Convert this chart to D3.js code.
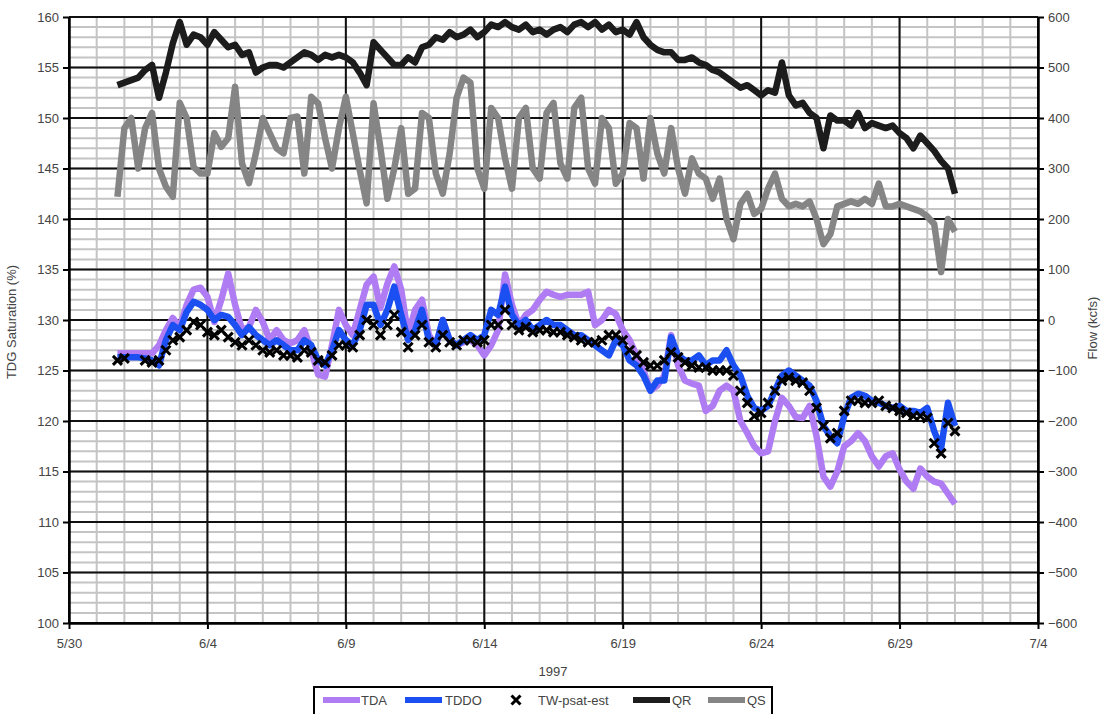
<!DOCTYPE html>
<html>
<head>
<meta charset="utf-8">
<script src="https://cdn.jsdelivr.net/npm/d3@7"></script>
<style>
  body { margin: 0; background: #fff; }
  svg text { font-family: "Liberation Sans", Arial, sans-serif; fill: #444; font-size: 13px; }
</style>
</head>
<body>
<svg id="chart" width="1104" height="714"></svg>
<script>
// Readings every 6 hours, starting 5/31/1997 18:00
const firstReading = Date.UTC(1997, 4, 31, 18);
const stepHours = 6;

// Total dissolved gas, % saturation (left axis)
const tda = [126.7,126.7,126.7,126.7,126.7,126.7,127.5,129.0,130.2,129.3,
  131.5,133.0,133.2,132.3,129.8,132.0,134.6,131.5,129.0,129.3,
  131.0,129.8,128.0,129.0,128.0,127.7,128.0,129.0,127.0,124.6,
  124.4,127.5,131.0,129.5,128.5,131.0,133.5,134.3,131.2,133.6,
  135.3,133.0,128.5,131.0,132.0,128.5,127.5,130.0,128.0,127.5,
  127.8,128.0,127.5,126.5,127.5,129.0,134.5,131.5,129.5,130.5,
  131.0,132.0,132.8,132.5,132.3,132.5,132.5,132.5,132.8,129.5,
  130.0,131.0,130.6,129.0,128.0,126.5,125.0,123.0,123.5,124.5,
  128.5,125.5,124.0,123.7,123.5,121.0,121.5,123.0,123.5,123.0,
  120.0,118.8,117.5,116.8,117.0,120.0,122.3,121.5,120.4,120.3,
  121.5,118.5,114.5,113.5,115.0,117.5,118.0,118.8,118.0,116.5,
  115.5,116.5,116.8,115.2,114.0,113.3,115.3,114.5,114.0,113.8,
  112.8,111.8];

const tddo = [126.3,126.3,126.3,126.3,126.2,126.0,125.5,128.0,129.5,129.0,
  130.8,131.8,131.5,131.0,130.0,130.5,130.3,129.5,128.5,129.3,
  128.5,128.0,127.5,128.0,127.5,127.0,127.0,128.0,127.5,126.0,
  125.5,127.0,129.0,128.0,127.5,129.0,131.5,131.5,129.5,131.0,
  133.3,130.5,128.0,129.0,131.0,128.0,127.5,130.0,128.0,127.5,
  128.0,128.5,128.0,128.5,131.0,130.5,133.3,130.5,129.5,130.0,
  129.0,129.5,130.0,129.5,129.5,129.0,128.5,128.5,128.0,127.5,
  127.0,126.5,128.0,127.5,126.0,125.5,124.5,123.0,124.0,124.0,
  128.3,126.5,126.0,126.0,126.5,125.5,126.0,126.0,127.0,125.5,
  124.5,122.5,121.3,121.0,121.5,123.0,124.5,125.0,124.5,124.0,
  123.5,122.0,119.5,118.5,117.8,120.5,122.3,122.7,122.5,122.0,
  121.8,121.5,121.3,121.5,121.0,121.0,120.8,121.3,119.0,117.3,
  121.8,119.5];

const twPsatEst = [126.0,126.2,null,null,126.0,125.8,126.0,127.0,128.0,128.3,
  129.0,129.8,129.5,128.8,128.5,129.0,128.3,127.8,127.5,128.0,
  127.5,127.0,126.8,127.0,126.5,126.5,126.3,127.0,126.8,126.0,
  125.8,126.5,127.5,127.5,127.3,128.5,130.0,129.5,128.5,129.5,
  130.5,128.8,127.3,128.5,129.5,127.8,127.3,128.5,127.8,127.5,
  128.0,128.0,127.8,128.0,129.5,129.5,131.0,129.5,129.0,129.3,
  128.8,129.0,129.0,128.8,128.8,128.5,128.3,128.0,127.8,127.8,
  128.0,128.5,128.5,128.0,127.0,126.5,125.8,125.5,125.5,126.0,
  126.8,126.3,125.8,125.5,125.3,125.3,125.0,125.0,125.0,124.5,
  123.0,121.8,120.5,120.8,121.8,123.0,124.0,124.3,124.0,123.8,
  123.0,121.3,119.5,118.3,118.8,121.0,122.0,122.0,121.8,121.8,
  122.0,121.5,121.3,121.0,120.8,120.5,120.5,120.3,117.8,116.8,
  119.8,119.0];

// Flows, kcfs (right axis)
const qr = [465,470,475,480,495,505,440,490,548,590,
  545,565,560,545,570,555,540,545,525,530,
  490,500,505,505,500,510,520,530,525,515,
  525,520,525,520,510,490,465,550,535,520,
  505,505,520,510,540,545,560,555,570,560,
  565,575,560,570,585,580,590,580,575,585,
  570,575,565,575,580,570,585,590,580,590,
  575,585,570,575,565,590,560,545,535,530,
  530,515,515,520,510,505,495,490,480,470,
  460,465,455,445,455,450,510,445,425,430,
  410,400,340,405,395,395,385,410,380,390,
  385,380,385,370,360,340,365,350,335,315,
  300,250];

const qs = [244,380,400,300,380,410,300,264,244,430,
  400,303,290,290,370,343,360,462,310,271,
  330,400,370,340,330,400,403,290,442,429,
  360,300,380,442,370,297,231,429,340,240,
  300,380,250,260,410,400,290,250,330,440,
  480,470,300,260,420,400,320,260,400,420,
  300,280,410,430,310,280,420,440,300,270,
  400,380,270,290,390,380,280,400,330,290,
  380,300,250,320,290,280,240,280,200,160,
  230,250,210,220,260,290,240,225,230,225,
  235,200,150,170,225,230,235,230,240,230,
  270,225,225,230,225,220,215,205,190,95,
  200,175];

const xTickLabels = ["5/30","6/4","6/9","6/14","6/19","6/24","6/29","7/4"];
const leftTicks = [100,105,110,115,120,125,130,135,140,145,150,155,160];
const rightTicks = [-600,-500,-400,-300,-200,-100,0,100,200,300,400,500,600];

const seriesColors = {"TDA":"#b07cf4","TDDO":"#1c4ff2","TW-psat-est":"#000","QR":"#1c1c1c","QS":"#858585"};

const svg = d3.select("#chart");
const plot = {left: 69, right: 1038, top: 17, bottom: 623};

const timeOf = i => new Date(firstReading + i * stepHours * 3600e3);
const x = d3.scaleUtc()
  .domain([Date.UTC(1997, 4, 30), Date.UTC(1997, 6, 4)])
  .range([plot.left, plot.right]);
const yL = d3.scaleLinear().domain([100, 160]).range([plot.bottom, plot.top]);
const yR = d3.scaleLinear().domain([-600, 600]).range([plot.bottom, plot.top]);

const days = d3.utcDay.range(x.domain()[0], d3.utcDay.offset(x.domain()[1], 1));
const majorDays = days.filter((d, i) => i % 5 === 0);

// minor grid: every day, every 1 % (20 kcfs)
const grid = svg.append("g");
grid.selectAll("line.vmin").data(days).join("line")
  .attr("x1", d => x(d)).attr("x2", d => x(d))
  .attr("y1", plot.top).attr("y2", plot.bottom)
  .attr("stroke", "#c4c4c4").attr("stroke-width", 2);
grid.selectAll("line.hmin").data(d3.range(100, 161, 1)).join("line")
  .attr("x1", plot.left).attr("x2", plot.right)
  .attr("y1", d => yL(d)).attr("y2", d => yL(d))
  .attr("stroke", "#c4c4c4").attr("stroke-width", 2);

// major grid
grid.selectAll("line.vmaj").data(majorDays).join("line")
  .attr("x1", d => x(d)).attr("x2", d => x(d))
  .attr("y1", plot.top).attr("y2", plot.bottom)
  .attr("stroke", "#111").attr("stroke-width", 2);
grid.selectAll("line.hmaj").data(leftTicks).join("line")
  .attr("x1", plot.left).attr("x2", plot.right)
  .attr("y1", d => yL(d)).attr("y2", d => yL(d))
  .attr("stroke", "#111").attr("stroke-width", 2);

// axes
const fmtDate = d => xTickLabels[majorDays.findIndex(m => +m === +d)];
const axB = svg.append("g").attr("transform", `translate(0,${plot.bottom})`)
  .call(d3.axisBottom(x).tickValues(majorDays).tickFormat(fmtDate).tickSize(6).tickSizeOuter(0).tickPadding(10));
const axL = svg.append("g").attr("transform", `translate(${plot.left},0)`)
  .call(d3.axisLeft(yL).tickValues(leftTicks).tickSize(6).tickSizeOuter(0).tickPadding(4));
const axR = svg.append("g").attr("transform", `translate(${plot.right},0)`)
  .call(d3.axisRight(yR).tickValues(rightTicks).tickSize(6).tickSizeOuter(0).tickPadding(4));
[axB, axL, axR].forEach(a => {
  a.selectAll("path.domain").attr("stroke", "#000").attr("stroke-width", 2.5);
  a.selectAll(".tick line").attr("stroke", "#000").attr("stroke-width", 2);
  a.selectAll(".tick text").attr("font-size", 13).attr("fill", "#444")
    .attr("font-family", "'Liberation Sans', Arial, sans-serif");
});
axR.selectAll(".tick text").attr("x", 10).attr("text-anchor", "start");

// axis titles
svg.append("text").attr("transform", "translate(16,322) rotate(-90)")
  .attr("text-anchor", "middle").attr("font-size", 12).text("TDG Saturation (%)");
svg.append("text").attr("transform", "translate(1097,328) rotate(-90)")
  .attr("text-anchor", "middle").attr("font-size", 12).text("Flow (kcfs)");
svg.append("text").attr("x", 553).attr("y", 676)
  .attr("text-anchor", "middle").text("1997");

// series
const toPoints = arr => arr.map((v, i) => ({t: timeOf(i), v}));
const lineL = d3.line().defined(d => d.v != null).x(d => x(d.t)).y(d => yL(d.v));
const lineR = d3.line().defined(d => d.v != null).x(d => x(d.t)).y(d => yR(d.v));

const marks = svg.append("g");
marks.append("path").datum(toPoints(tda)).attr("d", lineL)
  .attr("fill", "none").attr("stroke", seriesColors["TDA"]).attr("stroke-width", 6.5).attr("stroke-linejoin", "round");
marks.append("path").datum(toPoints(tddo)).attr("d", lineL)
  .attr("fill", "none").attr("stroke", seriesColors["TDDO"]).attr("stroke-width", 6.5).attr("stroke-linejoin", "round");

const xMark = "M-4.5,-4.5L4.5,4.5M-4.5,4.5L4.5,-4.5";
marks.append("g").selectAll("path").data(toPoints(twPsatEst).filter(d => d.v != null)).join("path")
  .attr("transform", d => `translate(${x(d.t)},${yL(d.v)})`)
  .attr("d", xMark).attr("stroke", "#000").attr("stroke-width", 3).attr("fill", "none");

marks.append("path").datum(toPoints(qs)).attr("d", lineR)
  .attr("fill", "none").attr("stroke", seriesColors["QS"]).attr("stroke-width", 6.5).attr("stroke-linejoin", "round");
marks.append("path").datum(toPoints(qr)).attr("d", lineR)
  .attr("fill", "none").attr("stroke", seriesColors["QR"]).attr("stroke-width", 6.5).attr("stroke-linejoin", "round");

// legend
const legend = svg.append("g");
legend.append("rect").attr("x", 314).attr("y", 687).attr("width", 458).attr("height", 40)
  .attr("fill", "#fff").attr("stroke", "#000").attr("stroke-width", 2);
const legendItems = [
  {name: "TDA", sx: 323, tx: 361},
  {name: "TDDO", sx: 405, tx: 445},
  {name: "TW-psat-est", sx: 512, tx: 538},
  {name: "QR", sx: 633, tx: 672},
  {name: "QS", sx: 708, tx: 747}
];
legendItems.forEach(it => {
  if (it.name === "TW-psat-est") {
    legend.append("path").attr("transform", `translate(${it.sx + 4},700)`).attr("d", xMark)
      .attr("stroke", "#000").attr("stroke-width", 3);
  } else {
    legend.append("line").attr("x1", it.sx).attr("x2", it.sx + 37).attr("y1", 700).attr("y2", 700)
      .attr("stroke", seriesColors[it.name]).attr("stroke-width", 6);
  }
  legend.append("text").attr("x", it.tx).attr("y", 705).text(it.name);
});
</script>
</body>
</html>
